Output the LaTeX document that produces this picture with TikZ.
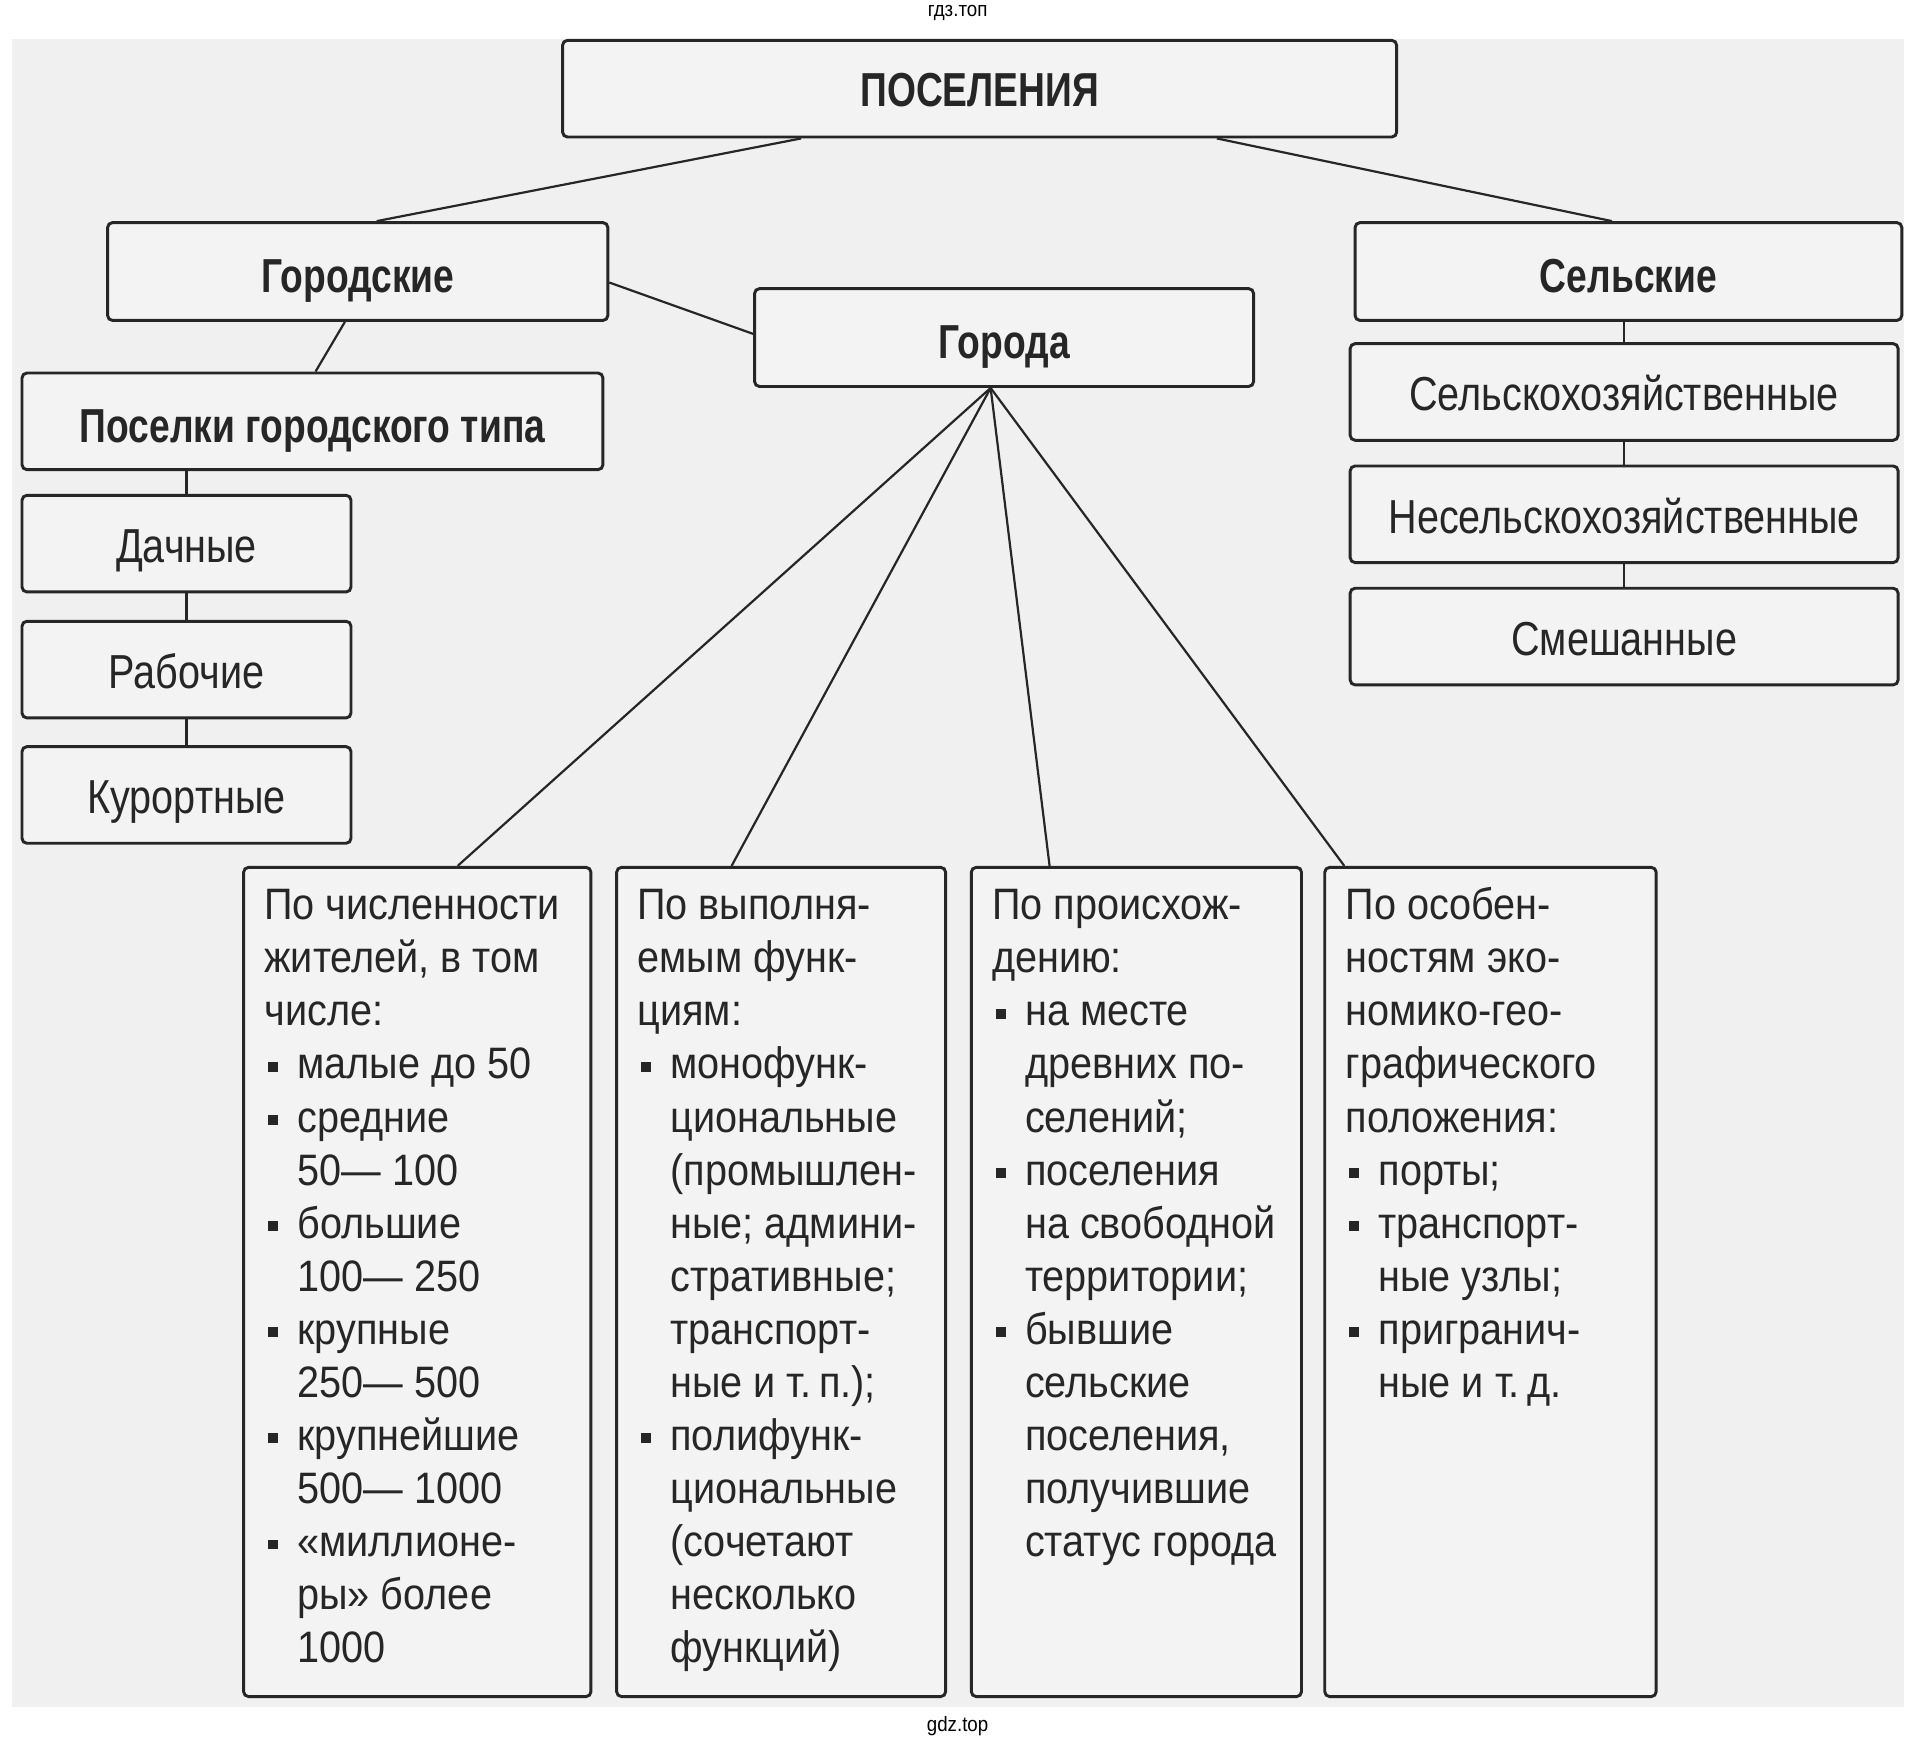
\documentclass[tikz,border=0pt]{standalone}
\usepackage{fontspec}
\setmainfont{Liberation Sans}[FakeStretch=0.9]
\newfontfamily\labelfont{Liberation Sans}[FakeStretch=0.83]
\newfontfamily\headfont{Liberation Sans}[FakeStretch=0.78]

\definecolor{paper}{HTML}{F0F0F0}
\definecolor{boxfill}{HTML}{F3F3F3}
\definecolor{ink}{HTML}{262626}

\newcommand{\sqbul}{\makebox[13.5pt][l]{\hspace{1.5pt}\rule[3pt]{4pt}{4pt}}}
\newcommand{\sqind}{\hspace*{13.5pt}}
\newcommand{\colbox}[2]{\parbox[c][326.6pt][t]{#1}{\begin{tabular}[t]{@{}l@{}}#2\end{tabular}}}

\begin{document}
\begin{tikzpicture}[
        x=0.5pt, y=-0.5pt,
        box/.style={draw=ink,line width=1.2pt,rounded corners=2pt,fill=boxfill,text=ink,align=center},
        head/.style={box,font=\headfont\bfseries\fontsize{19.5}{22}\selectfont,text height=17pt,text depth=0pt},
        kind/.style={box,font=\labelfont\fontsize{19.5}{22}\selectfont,text height=15.5pt,text depth=0pt},
        infobox/.style={box,anchor=north west,inner xsep=8.5pt,inner ysep=6.2pt,font=\fontsize{18}{21.7}\selectfont},
        link/.style={draw=ink,line width=0.9pt}
    ]
        % Page and background
        \useasboundingbox (0,0) rectangle (1565,1425);
        \fill[paper] (10,32) rectangle (1557,1396);
        \node[font=\fontsize{8.5}{10}\selectfont] (TopMark) at (783,11) {гдз.топ};
        \node[font=\fontsize{8.5}{10}\selectfont] (BottomMark) at (783,1411) {gdz.top};

        % Top levels
        \node[head,minimum width=341pt,minimum height=39.5pt,text height=14.5pt,font=\headfont\bfseries\fontsize{19.5}{22}\selectfont] (Settle) at (801,72.5) {ПОСЕЛЕНИЯ};
        \node[head,minimum width=204.5pt,minimum height=40pt] (Urban) at (292.5,222) {Городские};
        \node[head,minimum width=223.5pt,minimum height=40pt] (Rural) at (1331.5,222) {Сельские};
        \node[head,minimum width=204pt,minimum height=40pt] (Cities) at (821,276) {Города};
        \node[head,minimum width=237.5pt,minimum height=39.5pt] (Towns) at (255.5,344.5) {Поселки городского типа};

        % Kinds of towns
        \node[kind,minimum width=134.5pt,minimum height=39.5pt] (Dacha) at (152.5,444.5) {Дачные};
        \node[kind,minimum width=134.5pt,minimum height=39.5pt] (Work) at (152.5,547.5) {Рабочие};
        \node[kind,minimum width=134.5pt,minimum height=39.5pt] (Resort) at (152.5,650) {Курортные};

        % Kinds of villages
        \node[kind,minimum width=224pt,minimum height=39.5pt] (Farm) at (1328,320.5) {Сельскохозяйственные};
        \node[kind,minimum width=224pt,minimum height=39.5pt] (NonFarm) at (1328,420.5) {Несельскохозяйственные};
        \node[kind,minimum width=224pt,minimum height=39.5pt] (Mixed) at (1328,520.5) {Смешанные};

        % Kinds of cities
        \node[infobox] (Size) at (198,708) {\colbox{125pt}{%
            По численности\\
            жителей, в том\\
            числе:\\
            \sqbul малые до 50\\
            \sqbul средние\\
            \sqind 50— 100\\
            \sqbul большие\\
            \sqind 100— 250\\
            \sqbul крупные\\
            \sqind 250— 500\\
            \sqbul крупнейшие\\
            \sqind 500— 1000\\
            \sqbul «миллионе-\\
            \sqind ры» более\\
            \sqind 1000}};
        \node[infobox] (Func) at (503,708) {\colbox{117.5pt}{%
            По выполня-\\
            емым функ-\\
            циям:\\
            \sqbul монофунк-\\
            \sqind циональные\\
            \sqind (промышлен-\\
            \sqind ные; админи-\\
            \sqind стративные;\\
            \sqind транспорт-\\
            \sqind ные и т.\,п.);\\
            \sqbul полифунк-\\
            \sqind циональные\\
            \sqind (сочетают\\
            \sqind несколько\\
            \sqind функций)}};
        \node[infobox] (Origin) at (793,708) {\colbox{118pt}{%
            По происхож-\\
            дению:\\
            \sqbul на месте\\
            \sqind древних по-\\
            \sqind селений;\\
            \sqbul поселения\\
            \sqind на свободной\\
            \sqind территории;\\
            \sqbul бывшие\\
            \sqind сельские\\
            \sqind поселения,\\
            \sqind получившие\\
            \sqind статус города}};
        \node[infobox] (Place) at (1082,708) {\colbox{118.5pt}{%
            По особен-\\
            ностям эко-\\
            номико-гео-\\
            графического\\
            положения:\\
            \sqbul порты;\\
            \sqbul транспорт-\\
            \sqind ные узлы;\\
            \sqbul пригранич-\\
            \sqind ные и т.\,д.}};

        % Connectors
        \draw[link] ([xshift=-73pt]Settle.south) -- ([xshift=7.75pt]Urban.north);
        \draw[link] ([xshift=97pt]Settle.south) -- ([xshift=-6.75pt]Rural.north);
        \draw[link] ([yshift=-4.5pt]Urban.east) -- ([yshift=1.5pt]Cities.west);
        \draw[link] ([xshift=-5.25pt]Urban.south) -- ([xshift=1.25pt]Towns.north);
        \draw[link] (Towns.south -| Dacha.north) -- (Dacha.north);
        \draw[link] (Dacha.south) -- (Work.north);
        \draw[link] (Work.south) -- (Resort.north);
        \draw[link] (Rural.south -| Farm.north) -- (Farm.north);
        \draw[link] (Farm.south) -- (NonFarm.north);
        \draw[link] (NonFarm.south) -- (Mixed.north);

        \coordinate (Fan) at ([xshift=-5.5pt]Cities.south);
        \draw[link] (Fan) -- ([xshift=16.5pt]Size.north);
        \draw[link] (Fan) -- ([xshift=-20.25pt]Func.north);
        \draw[link] (Fan) -- ([xshift=-35.5pt]Origin.north);
        \draw[link] (Fan) -- ([xshift=-59.75pt]Place.north);
    \end{tikzpicture}
\end{document}
